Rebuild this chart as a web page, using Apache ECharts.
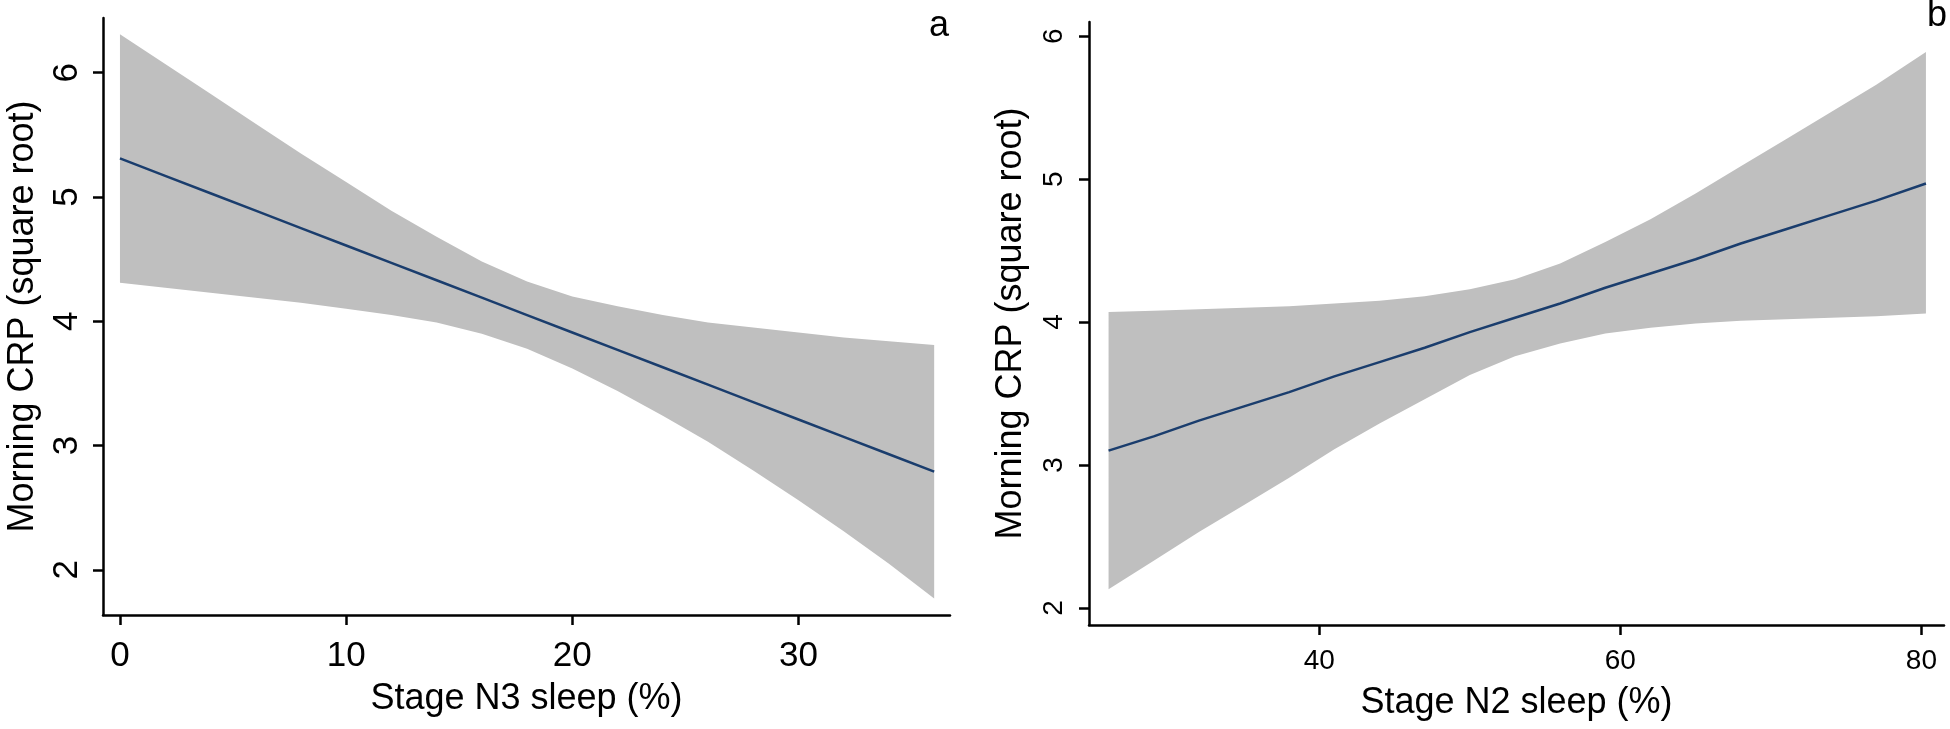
<!DOCTYPE html>
<html>
<head>
<meta charset="utf-8">
<script src="https://cdn.jsdelivr.net/npm/echarts@6/dist/echarts.min.js"></script>
<style>
html,body{margin:0;padding:0;background:#fff;}
#chart{width:1950px;height:729px;}
</style>
</head>
<body>
<div id="chart"></div>
<script>
// ---- Panel a: Stage N3 sleep ----
var n3X     = [0, 2, 4, 6, 8, 10, 12, 14, 16, 18, 20, 22, 24, 26, 28, 30, 32, 34, 36];
var n3Fit   = [5.31, 5.17, 5.03, 4.89, 4.75, 4.61, 4.47, 4.33, 4.19, 4.05, 3.91, 3.77, 3.63, 3.49, 3.35, 3.21, 3.07, 2.93, 2.79];
var n3Upper = [6.31, 6.07, 5.83, 5.59, 5.35, 5.12, 4.89, 4.68, 4.48, 4.32, 4.20, 4.12, 4.05, 3.99, 3.95, 3.91, 3.87, 3.84, 3.81];
var n3Lower = [4.31, 4.27, 4.23, 4.19, 4.15, 4.10, 4.05, 3.99, 3.90, 3.78, 3.62, 3.44, 3.24, 3.03, 2.80, 2.56, 2.31, 2.05, 1.77];
var n3XTicks = [0, 10, 20, 30];
var n3YTicks = [2, 3, 4, 5, 6];

// ---- Panel b: Stage N2 sleep ----
var n2X     = [26, 29, 32, 35, 38, 41, 44, 47, 50, 53, 56, 59, 62, 65, 68, 71, 74, 77, 80.3];
var n2Fit   = [3.10, 3.20, 3.31, 3.41, 3.51, 3.62, 3.72, 3.82, 3.93, 4.03, 4.13, 4.24, 4.34, 4.44, 4.55, 4.65, 4.75, 4.85, 4.97];
var n2Upper = [4.07, 4.08, 4.09, 4.10, 4.11, 4.13, 4.15, 4.18, 4.23, 4.30, 4.41, 4.56, 4.72, 4.90, 5.09, 5.28, 5.47, 5.66, 5.89];
var n2Lower = [2.13, 2.33, 2.53, 2.72, 2.91, 3.11, 3.29, 3.46, 3.63, 3.76, 3.85, 3.92, 3.96, 3.99, 4.01, 4.02, 4.03, 4.04, 4.06];
var n2XTicks = [40, 60, 80];
var n2YTicks = [2, 3, 4, 5, 6];

var yTitle = 'Morning CRP (square root)';
var n3Title = 'Stage N3 sleep (%)';
var n2Title = 'Stage N2 sleep (%)';

var FONT = '"Liberation Sans", Arial, sans-serif';
var BAND = '#bfbfbf';
var LINE = '#1a3d6d';

function pairs(xs, ys){ return xs.map(function(x,i){ return [x, ys[i]]; }); }

function bandRender(xs, up, lo){
  return function(params, api){
    if (params.dataIndex !== 0) return;
    var pts = [];
    for (var i = 0; i < xs.length; i++) pts.push(api.coord([xs[i], up[i]]));
    for (var j = xs.length - 1; j >= 0; j--) pts.push(api.coord([xs[j], lo[j]]));
    return { type: 'polygon', shape: { points: pts }, style: { fill: BAND } };
  };
}

function axisCommon(fontSize, margin, ticks, rotate){
  return {
    axisLine: { show: true, onZero: false, lineStyle: { color: '#000', width: 2.5 } },
    axisTick: { show: true, length: 10, lineStyle: { color: '#000', width: 2.5 }, customValues: ticks },
    axisLabel: { show: true, color: '#000', fontFamily: FONT, fontSize: fontSize, margin: margin, rotate: rotate || 0, customValues: ticks },
    splitLine: { show: false }
  };
}

var xa = Object.assign({ type: 'value', gridIndex: 0, min: -0.75, max: 36.7,
  name: n3Title, nameLocation: 'middle', nameGap: 66,
  nameTextStyle: { color: '#000', fontFamily: FONT, fontSize: 36 } }, axisCommon(35, 24, n3XTicks));
var ya = Object.assign({ type: 'value', gridIndex: 0, min: 1.637, max: 6.44,
  name: yTitle, nameLocation: 'middle', nameGap: 62,
  nameTextStyle: { color: '#000', fontFamily: FONT, fontSize: 36 } }, axisCommon(35, 18, n3YTicks, 90));
var xb = Object.assign({ type: 'value', gridIndex: 1, min: 24.7, max: 81.5,
  name: n2Title, nameLocation: 'middle', nameGap: 60,
  nameTextStyle: { color: '#000', fontFamily: FONT, fontSize: 36 } }, axisCommon(28, 22, n2XTicks));
var yb = Object.assign({ type: 'value', gridIndex: 1, min: 1.88, max: 6.1,
  name: yTitle, nameLocation: 'middle', nameGap: 60,
  nameTextStyle: { color: '#000', fontFamily: FONT, fontSize: 36 } }, axisCommon(28, 21, n2YTicks, 90));

var chart = echarts.init(document.getElementById('chart'), null, { renderer: 'canvas' });
chart.setOption({
  backgroundColor: '#fff',
  animation: false,
  grid: [
    { left: 103, top: 18, right: 1000, bottom: 114, containLabel: false },
    { left: 1089, top: 22, right: 6, bottom: 104, containLabel: false }
  ],
  xAxis: [xa, xb],
  yAxis: [ya, yb],
  graphic: [
    { type: 'text', right: 1950 - 949, top: 8, style: { text: 'a', fill: '#000', font: '36px ' + FONT } },
    { type: 'text', right: 3, top: -2, style: { text: 'b', fill: '#000', font: '36px ' + FONT } }
  ],
  series: [
    { type: 'custom', xAxisIndex: 0, yAxisIndex: 0, renderItem: bandRender(n3X, n3Upper, n3Lower),
      data: n3X.map(function(x,i){ return [x, n3Upper[i], n3Lower[i]]; }), encode: { x: 0, y: [1, 2] }, z: 1, silent: true },
    { type: 'line', xAxisIndex: 0, yAxisIndex: 0, data: pairs(n3X, n3Fit), showSymbol: false, symbol: 'none',
      lineStyle: { color: LINE, width: 2.5 }, z: 3 },
    { type: 'custom', xAxisIndex: 1, yAxisIndex: 1, renderItem: bandRender(n2X, n2Upper, n2Lower),
      data: n2X.map(function(x,i){ return [x, n2Upper[i], n2Lower[i]]; }), encode: { x: 0, y: [1, 2] }, z: 1, silent: true },
    { type: 'line', xAxisIndex: 1, yAxisIndex: 1, data: pairs(n2X, n2Fit), showSymbol: false, symbol: 'none',
      lineStyle: { color: LINE, width: 2.5 }, z: 3 }
  ]
});
</script>
</body>
</html>
